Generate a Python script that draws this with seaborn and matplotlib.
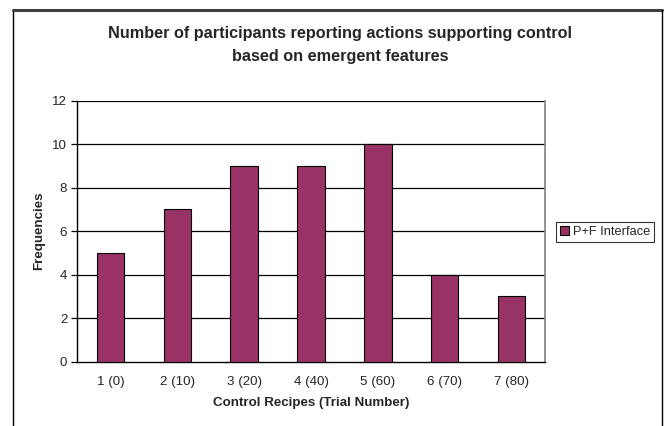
import matplotlib
matplotlib.use("Agg")
import matplotlib.pyplot as plt
import seaborn as sns
import pandas as pd
import numpy as np
from matplotlib.patches import Patch

categories = ["1 (0)", "2 (10)", "3 (20)", "4 (40)", "5 (60)", "6 (70)", "7 (80)"]
values = [5, 7, 9, 9, 10, 4, 3]
series_name = "P+F Interface"
yticks = [0, 2, 4, 6, 8, 10, 12]

sns.set_style("white")
plt.rcParams['font.family'] = ['Liberation Sans', 'DejaVu Sans']

df = pd.DataFrame({"cat": categories, "val": values})

fig = plt.figure(figsize=(6.65, 4.26), dpi=100)
ax = fig.add_axes([77/665, 1-361.7/426, (545-77)/665, (361.7-100.7)/426])

sns.barplot(data=df, x="cat", y="val", color="#993366", width=0.41,
            edgecolor="black", linewidth=0.8, saturation=1, ax=ax, zorder=3)

ax.set_ylim(0, 12)
ax.set_xlim(-0.5, len(categories) - 0.5)
ax.set_yticks(yticks)
ax.set_yticklabels([str(v) for v in yticks], fontsize=9.6)
for y in yticks[1:]:
    ax.axhline(y, color="black", linewidth=0.9, zorder=1)

ax.set_xticks(range(len(categories)))
ax.set_xticklabels(categories, fontsize=9.6)
ax.tick_params(axis="x", length=0, pad=10)
ax.set_xticks(np.arange(-0.5, len(categories), 1.0), minor=True)
ax.tick_params(axis="x", which="minor", length=4, width=0.9, color="black", direction="out")
ax.tick_params(axis="y", length=4, width=0.9, color="black", direction="out", pad=3, left=True)

ax.spines["top"].set_visible(False)
ax.spines["left"].set_color("black")
ax.spines["left"].set_linewidth(1.0)
ax.spines["bottom"].set_color("black")
ax.spines["bottom"].set_linewidth(1.0)
ax.spines["right"].set_color("#808080")
ax.spines["right"].set_linewidth(1.2)

ax.set_xlabel("Control Recipes (Trial Number)", fontsize=9.6, fontweight="bold", labelpad=7)
ax.set_ylabel("Frequencies", fontsize=9.6, fontweight="bold", labelpad=5)

fig.text(340/665, 1-45/426, "Number of participants reporting actions supporting control\nbased on emergent features",
         ha="center", va="center", fontsize=11.7, fontweight="bold", linespacing=1.6)

handle = Patch(facecolor="#993366", edgecolor="black", linewidth=0.8)
leg = fig.legend([handle], [series_name], loc="center left",
                 bbox_to_anchor=(556/665, 1-232/426), fontsize=9.3, frameon=True,
                 fancybox=False, edgecolor="black", handlelength=0.7, handleheight=0.7,
                 handletextpad=0.3, borderpad=0.3, borderaxespad=0)
leg.get_frame().set_linewidth(0.8)

# outer chart border (left, top, right)
fig.add_artist(plt.Line2D([13/665, 13/665], [0, 1-10/426], transform=fig.transFigure, color="black", lw=1.0))
fig.add_artist(plt.Line2D([13/665, 661.5/665], [1-10/426, 1-10/426], transform=fig.transFigure, color="#404040", lw=2.2))
fig.add_artist(plt.Line2D([661.5/665, 661.5/665], [0, 1-10/426], transform=fig.transFigure, color="black", lw=1.0))

fig.savefig("out.png", dpi=100)
